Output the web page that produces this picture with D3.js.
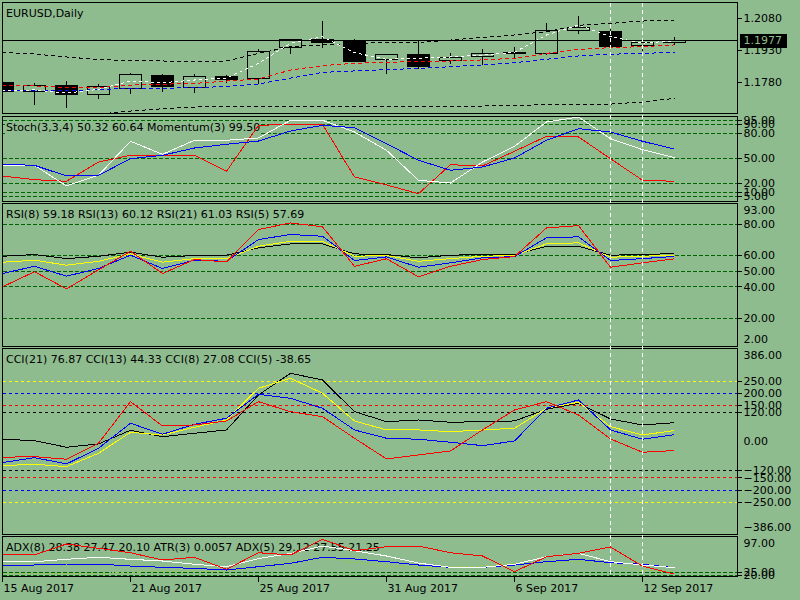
<!DOCTYPE html>
<html>
<head>
<meta charset="utf-8">
<script src="https://cdn.jsdelivr.net/npm/d3@7"></script>
<style>
html, body { margin: 0; padding: 0; background: #8fbc8f; }
svg { display: block; font-family: "DejaVu Sans", sans-serif; font-size: 11px; }
path, line, rect { shape-rendering: crispEdges; }
</style>
</head>
<body>
<svg id="chart" width="800" height="600"></svg>
<script>
// daily bars
const dates = ['15 Aug 2017','16 Aug 2017','17 Aug 2017','18 Aug 2017','21 Aug 2017','22 Aug 2017',
  '23 Aug 2017','24 Aug 2017','25 Aug 2017','28 Aug 2017','29 Aug 2017','30 Aug 2017','31 Aug 2017',
  '1 Sep 2017','4 Sep 2017','5 Sep 2017','6 Sep 2017','7 Sep 2017','8 Sep 2017','11 Sep 2017',
  '12 Sep 2017','13 Sep 2017']
const open  = [1.1779,1.1737,1.1764,1.1720,1.1752,1.1812,1.1753,1.1807,1.1796,1.1943,1.1982,1.1974,1.1886,1.1911,1.1879,1.1898,1.1920,1.1914,1.2025,1.2020,1.1952,1.1966]
const high  = [1.1785,1.1780,1.1788,1.1772,1.1827,1.1823,1.1820,1.1816,1.1941,1.1988,1.2072,1.1985,1.1912,1.1981,1.1922,1.1938,1.1949,1.2061,1.2096,1.2033,1.1974,1.1996]
const low   = [1.1731,1.1674,1.1659,1.1704,1.1725,1.1737,1.1733,1.1780,1.1772,1.1914,1.1946,1.1877,1.1820,1.1843,1.1867,1.1864,1.1898,1.1912,1.2012,1.1948,1.1930,1.1958]
const close = [1.1738,1.1764,1.1720,1.1760,1.1816,1.1760,1.1807,1.1794,1.1925,1.1981,1.1969,1.1879,1.1910,1.1856,1.1895,1.1914,1.1914,1.2025,1.2037,1.1950,1.1966,1.1977]

// moving averages / bands on the price pane
const maFast = [1.1737,1.1741,1.1726,1.1744,1.1783,1.1775,1.1788,1.1797,1.1867,1.1962,1.1993,1.1917,1.1886,1.1891,1.1897,1.1906,1.1919,1.2001,1.2048,1.1993,1.1962,1.1974]
const maMid  = [1.1761,1.1760,1.1753,1.1753,1.1764,1.1768,1.1772,1.1783,1.1793,1.1835,1.1856,1.1867,1.1872,1.1875,1.1878,1.1883,1.1891,1.1914,1.1933,1.1941,1.1946,1.1954]
const maSlow = [1.1737,1.1737,1.1738,1.1742,1.1749,1.1749,1.1752,1.1757,1.1769,1.1797,1.1824,1.1831,1.1837,1.1843,1.1851,1.1859,1.1870,1.1886,1.1902,1.1910,1.1914,1.1919]
const bandUp = [1.1919,1.1911,1.1897,1.1885,1.1880,1.1878,1.1876,1.1878,1.1914,1.1946,1.1954,1.1962,1.1964,1.1966,1.1977,1.1990,1.2001,1.2017,1.2047,1.2056,1.2067,1.2072]
const bandLo = [1.1608,1.1613,1.1618,1.1627,1.1641,1.1652,1.1660,1.1662,1.1662,1.1662,1.1662,1.1662,1.1662,1.1662,1.1662,1.1665,1.1668,1.1671,1.1673,1.1674,1.1684,1.1701]
const priceTicks = [1.2080, 1.1930, 1.1780]

// stochastic pane
const stochMain   = [41.3,41.3,16.7,29.4,69.9,54.4,71.1,71.1,73.8,94.9,94.9,81.0,59.2,23.5,20.2,45.2,63.9,92.9,98.8,73.0,59.9,50.32]
const stochSignal = [42.5,41.3,28.6,29.4,49.2,53.2,61.9,66.3,70.2,82.1,88.9,86.1,67.0,47.3,35.4,39.3,50.0,71.1,84.9,81.0,69.9,60.64]
const stochFast   = [28.6,24.2,22.3,45.2,53.2,53.2,53.2,34.2,88.9,90.1,90.1,27.4,17.9,7.5,42.0,40.5,58.0,75.8,75.0,49.2,23.5,22.3]
const stochLevels = [95, 90, 80, 50, 20, 10, 5]

// RSI pane
const rsi5  = [39.8,49.4,38.5,50.6,62.5,48.3,57.2,55.7,76.4,80.6,78.1,52.9,57.7,46.2,52.9,57.2,59.1,77.4,78.9,52.3,55.1,57.69]
const rsi8  = [48.3,52.9,46.6,51.5,60.0,51.5,56.8,56.1,70.0,73.2,72.1,56.6,58.9,52.3,55.1,58.3,59.1,71.1,71.7,56.6,57.8,59.18]
const rsi13 = [55.5,56.8,53.6,56.1,60.8,55.5,57.8,57.8,65.7,68.9,68.9,59.3,59.8,56.1,57.8,59.3,59.8,67.2,67.9,58.7,59.3,60.12]
const rsi21 = [59.3,60.4,57.8,59.3,61.9,58.7,59.8,60.0,64.7,67.2,67.2,60.8,60.4,58.3,60.0,60.4,60.4,65.7,65.7,60.0,60.4,61.03]
const rsiLevels = [80, 60, 50, 40, 20]
const rsiRange = [2, 93]

// CCI pane
const cci21 = [8.3,2.5,-24.8,-11.2,45.5,19.0,33.1,46.8,191.6,281.3,253.6,122.5,81.1,88.1,78.6,81.1,84.0,132.4,157.2,92.3,67.4,76.87]
const cci13 = [-100.9,-95.2,-105.0,-49.6,37.2,26.1,57.9,88.1,219.3,260.7,198.6,84.0,46.8,46.8,39.7,46.8,53.8,136.5,161.4,60.4,26.1,44.33]
const cci8  = [-88.5,-67.9,-93.9,-29.0,74.5,29.0,70.3,95.2,194.5,177.9,136.5,46.8,12.4,8.3,-4.1,-18.2,1.2,136.5,170.9,46.8,8.3,27.08]
const cci5  = [-66.2,-63.7,-74.5,-8.3,163.8,63.3,67.4,84.0,163.8,122.5,101.8,12.4,-73.2,-56.7,-40.1,46.8,129.5,163.8,108.8,9.5,-45.5,-38.65]
const cciLevels = [
  {v: 250, c: '#ffff00'}, {v: -250, c: '#ffff00'},
  {v: 200, c: '#0000ff'}, {v: -200, c: '#0000ff'},
  {v: 150, c: '#ff0000'}, {v: -150, c: '#ff0000'},
  {v: 120, c: '#000000'}, {v: -120, c: '#000000'}
]
const cciTicks = [250, 200, 150, 120, -120, -150, -200, -250]
const cciRange = [-386, 386]

// ADX / ATR pane
const adxRed    = [60.6,60.6,83.4,74.5,65.3,50.2,55.8,30.9,65.3,60.6,93.1,69.5,77.8,79.2,65.3,58.5,25.9,57.0,64.1,77.2,37.2,21.1]
const adxWhite  = [46.7,46.7,51.6,55.8,51.6,48.1,41.3,36.3,53.3,63.7,79.2,69.5,58.5,43.8,35.0,35.0,41.3,57.0,64.1,46.7,39.8,34.2]
const adxBlue   = [39.8,39.8,41.9,41.9,37.7,35.0,32.8,29.4,36.3,43.3,55.8,52.3,46.7,39.8,35.0,35.0,39.8,46.7,51.6,44.6,41.3,34.2]
const adxDotted = [22,22,22,22,25,26,27,27,36,46,56,45,37,35,36,38,43,45,47,40,28,26]
const adxLevels = [25, 20]
const adxRange = [97]

const markedDays = ['11 Sep 2017', '12 Sep 2017']
const timeTicks = ['15 Aug 2017','21 Aug 2017','25 Aug 2017','31 Aug 2017','6 Sep 2017','12 Sep 2017']

const BG = '#8fbc8f', GRID = '#006400'
const LEFT = 2.5, RIGHT = 737.5
let svg = d3.select('svg#chart')

let x = d3.scaleLinear().domain([0, 21]).range([2.5, 674.5])

let panes = {
  main:  {top: 2.5,   bottom: 113.5, y: d3.scaleLinear().domain([1.1780, 1.2080]).range([81.7, 18.3])},
  stoch: {top: 116,   bottom: 201,   y: d3.scaleLinear().domain([0, 100]).range([200, 116])},
  rsi:   {top: 203.5, bottom: 346,   y: d3.scaleLinear().domain([2, 93]).range([346, 203.5])},
  cci:   {top: 348.5, bottom: 534,   y: d3.scaleLinear().domain([-386, 386]).range([534.5, 348])},
  adx:   {top: 536.5, bottom: 576.5, y: d3.scaleLinear().domain([17, 100]).range([576, 536])}
}

let defs = svg.append('defs')
Object.entries(panes).forEach(([name, p]) => {
  defs.append('clipPath').attr('id', 'clip-' + name).append('rect')
    .attr('x', LEFT).attr('y', p.top).attr('width', RIGHT - LEFT).attr('height', p.bottom - p.top)
  let g = svg.append('g')
  p.grid = g.append('g').attr('clip-path', `url(#clip-${name})`)
  p.legend = g.append('g')
  p.marks = g.append('g').attr('clip-path', `url(#clip-${name})`)
  p.border = g.append('rect')
    .attr('x', LEFT).attr('y', p.top).attr('width', RIGHT - LEFT).attr('height', p.bottom - p.top)
    .attr('fill', 'none').attr('stroke', '#000')
})

const px = v => Math.round(v) + 0.5

function drawLine(p, values, color, dash) {
  p.marks.append('path')
    .datum(values)
    .attr('fill', 'none')
    .attr('stroke', color)
    .attr('stroke-width', 1)
    .attr('stroke-dasharray', dash || null)
    .attr('d', d3.line().x((d, i) => x(i)).y(d => p.y(d)))
}

function drawLevels(p, levels, color, dash) {
  p.grid.selectAll(null).data(levels).join('line')
    .attr('x1', LEFT).attr('x2', RIGHT)
    .attr('y1', d => px(p.y(d.v !== undefined ? d.v : d)))
    .attr('y2', d => px(p.y(d.v !== undefined ? d.v : d)))
    .attr('stroke', d => d.c || color)
    .attr('stroke-dasharray', dash)
}

function drawLegend(p, text) {
  let t = p.legend.append('text').attr('x', 6).attr('y', p.top + 14.5).attr('fill', '#000').text(text)
  let b = t.node().getBBox()
  p.legend.insert('rect', 'text')
    .attr('x', b.x - 1).attr('y', b.y).attr('width', b.width + 2).attr('height', b.height)
    .attr('fill', BG)
}

function rightAxis(p, ticks, fmt, edges) {
  let ax = d3.axisRight(p.y).tickValues(ticks).tickFormat(fmt)
    .tickSize(4).tickSizeOuter(0).tickPadding(2)
  let g = svg.append('g').attr('transform', `translate(${RIGHT},0)`).call(ax)
  g.select('.domain').remove()
  g.attr('font-family', null).attr('font-size', null)
  g.selectAll('.tick line').attr('stroke', '#000')
  g.selectAll('.tick text').attr('fill', '#000')
  // max / min labels are pulled inside the pane, no tick
  ;(edges || []).forEach(v => {
    let yy = Math.min(Math.max(p.y(v), p.top + 6.5), p.bottom - 7)
    svg.append('text').attr('x', RIGHT + 6).attr('y', yy).attr('dy', '0.32em')
      .attr('fill', '#000').text(fmt(v))
  })
}

// ---- price pane
let main = panes.main
let bars = main.marks.selectAll('g.bar').data(dates.map((d, i) => i)).join('g').attr('class', 'bar')
bars.append('line')
  .attr('x1', i => x(i)).attr('x2', i => x(i))
  .attr('y1', i => px(main.y(high[i]))).attr('y2', i => px(main.y(low[i])))
  .attr('stroke', '#000')
bars.append('rect')
  .attr('x', i => x(i) - 11).attr('width', 22)
  .attr('y', i => px(main.y(Math.max(open[i], close[i]))))
  .attr('height', i => Math.max(1, Math.round(Math.abs(main.y(open[i]) - main.y(close[i])))))
  .attr('fill', i => close[i] >= open[i] ? BG : '#000')
  .attr('stroke', '#000')

drawLine(main, bandUp, '#000', '4,3')
drawLine(main, bandLo, '#000', '4,3')
drawLine(main, maSlow, '#0000ff', '4,3')
drawLine(main, maMid, '#ff0000', '4,3')
drawLine(main, maFast, '#ffffff', '3,3')

let last = close[close.length - 1]
main.marks.append('line')
  .attr('x1', LEFT).attr('x2', RIGHT)
  .attr('y1', px(main.y(last))).attr('y2', px(main.y(last)))
  .attr('stroke', '#000')
drawLegend(main, 'EURUSD,Daily')
rightAxis(main, priceTicks, d3.format('.4f'))
svg.append('rect')
  .attr('x', RIGHT + 2).attr('y', px(main.y(last)) - 7).attr('width', 47).attr('height', 14)
  .attr('fill', '#000')
svg.append('text')
  .attr('x', RIGHT + 6).attr('y', main.y(last)).attr('dy', '0.35em')
  .attr('fill', BG).text(d3.format('.4f')(last))

// ---- stochastic
let st = panes.stoch
drawLevels(st, stochLevels, GRID, '4,2')
drawLegend(st, 'Stoch(3,3,4) 50.32 60.64 Momentum(3) 99.50')
drawLine(st, stochFast, '#ff0000')
drawLine(st, stochMain, '#ffffff')
drawLine(st, stochSignal, '#0000ff')
rightAxis(st, stochLevels, d3.format('.2f'))

// ---- RSI
let rs = panes.rsi
drawLevels(rs, rsiLevels, GRID, '4,2')
drawLegend(rs, 'RSI(8) 59.18 RSI(13) 60.12 RSI(21) 61.03 RSI(5) 57.69')
drawLine(rs, rsi21, '#000000')
drawLine(rs, rsi13, '#ffff00')
drawLine(rs, rsi8, '#0000ff')
drawLine(rs, rsi5, '#ff0000')
rightAxis(rs, rsiLevels, d3.format('.2f'), rsiRange)

// ---- CCI
let cc = panes.cci
drawLevels(cc, cciLevels, null, '3,3')
drawLegend(cc, 'CCI(21) 76.87 CCI(13) 44.33 CCI(8) 27.08 CCI(5) -38.65')
drawLine(cc, cci21, '#000000')
drawLine(cc, cci13, '#ffff00')
drawLine(cc, cci8, '#0000ff')
drawLine(cc, cci5, '#ff0000')
rightAxis(cc, cciTicks, d3.format('.2f'), cciRange)
svg.append('text').attr('x', RIGHT + 6).attr('y', cc.y(0)).attr('dy', '0.32em')
  .attr('fill', '#000').text(d3.format('.2f')(0))

// ---- ADX / ATR
let ad = panes.adx
drawLevels(ad, adxLevels, GRID, '4,2')
drawLegend(ad, 'ADX(8) 28.38 27.47 20.10 ATR(3) 0.0057 ADX(5) 29.12 27.55 21.25')
drawLine(ad, adxDotted, '#9acd32', '2,3')
drawLine(ad, adxBlue, '#0000ff')
drawLine(ad, adxWhite, '#ffffff')
drawLine(ad, adxRed, '#ff0000')
rightAxis(ad, adxLevels, d3.format('.2f'), adxRange)

// vertical marker lines across all panes
svg.append('g').selectAll('line').data(markedDays.map(d => dates.indexOf(d))).join('line')
  .attr('x1', i => x(i)).attr('x2', i => x(i))
  .attr('y1', panes.main.top).attr('y2', panes.adx.bottom)
  .attr('stroke', '#ffffff').attr('stroke-dasharray', '4,3')

// time scale
let tAxis = d3.axisBottom(x)
  .tickValues(timeTicks.map(d => dates.indexOf(d)))
  .tickFormat(i => dates[i])
  .tickSize(5).tickSizeOuter(0).tickPadding(3)
let tg = svg.append('g').attr('transform', `translate(-0.5,${panes.adx.bottom})`).call(tAxis)
tg.select('.domain').remove()
tg.attr('font-family', null).attr('font-size', null)
tg.selectAll('.tick line').attr('stroke', '#000')
tg.selectAll('.tick text').attr('fill', '#000').attr('text-anchor', 'start').attr('x', 1)
</script>
</body>
</html>
